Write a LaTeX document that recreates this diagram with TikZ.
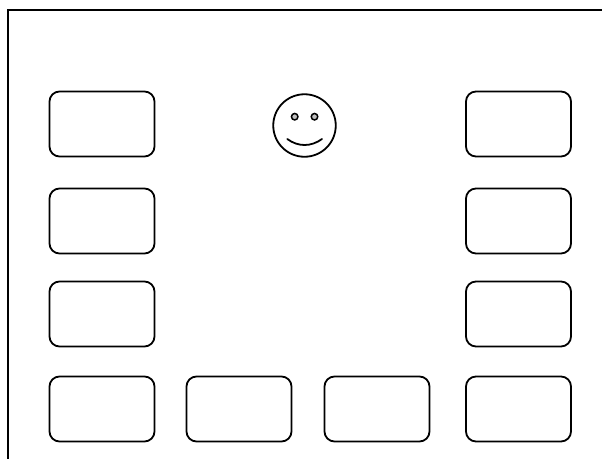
\documentclass[tikz,border=0pt]{standalone}
\tikzset{
  card/.style={draw=black, line width=1.8pt, rounded corners=10pt, rectangle, minimum width=105pt, minimum height=65pt, inner sep=0pt, outer sep=0pt, fill=white},
  facering/.style={draw=black, line width=1.8pt, circle, minimum size=62.5pt, inner sep=0pt, outer sep=0pt},
  eye/.style={draw=black, line width=1.5pt, fill=black!25, circle, minimum size=6.5pt, inner sep=0pt, outer sep=0pt},
  frameline/.style={draw=black, line width=2pt}
}
\begin{document}
\begin{tikzpicture}[x=1pt,y=-1pt]
\useasboundingbox[fill=white] (0,0) rectangle (602,459);
\coordinate (ftop) at (602,9.5);
\coordinate (fcorner) at (7.5,9.5);
\coordinate (fbottom) at (7.5,459);
\draw[frameline] (ftop) -- (fcorner) -- (fbottom);
\node[card] (l1) at (102,124) {};
\node[card] (l2) at (102,221) {};
\node[card] (l3) at (102,314) {};
\node[card] (l4) at (102,409) {};
\node[card] (b2) at (239,409) {};
\node[card] (b3) at (377,409) {};
\node[card] (r1) at (518.5,124) {};
\node[card] (r2) at (518.5,221) {};
\node[card] (r3) at (518.5,314) {};
\node[card] (r4) at (518.5,409) {};
\node[facering] (face) at (304.5,125.5) {};
\node[eye] (eyeL) at (294.7,116.7) {};
\node[eye] (eyeR) at (314.5,116.7) {};
\coordinate (smileL) at (287.3,139);
\coordinate (smileR) at (322,139);
\draw[line width=1.8pt, line cap=round] (smileL) .. controls (298,147) and (311,147) .. (smileR);
\end{tikzpicture}
\end{document}
